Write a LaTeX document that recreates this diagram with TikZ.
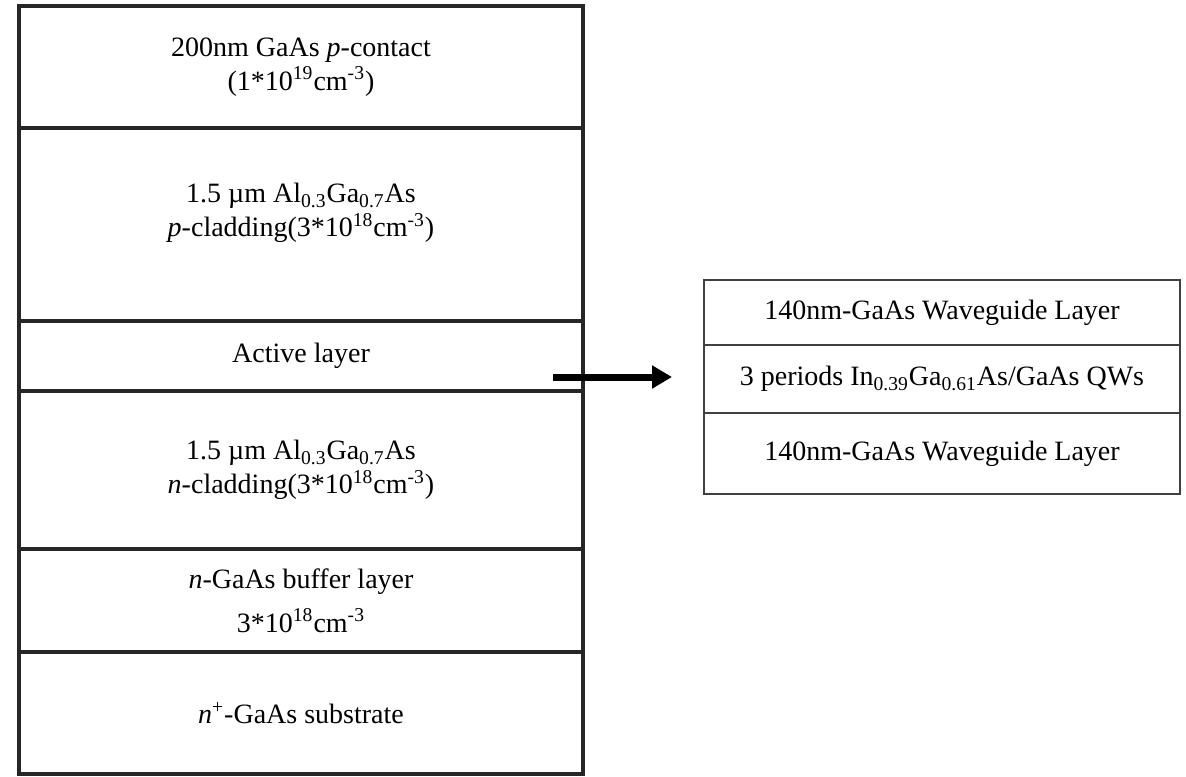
\documentclass[tikz,border=0pt]{standalone}
\usepackage{fontspec}
\setmainfont{Liberation Serif}
\usetikzlibrary{arrows.meta}
\tikzset{
  layer/.style={draw=black!85, line width=1.8pt, minimum width=282pt, inner sep=0pt,
    align=center, font=\fontsize{14pt}{17pt}\selectfont},
  sublayer/.style={draw=black!75, line width=1pt, minimum width=238pt, inner sep=0pt,
    align=center, font=\fontsize{14pt}{17pt}\selectfont},
  arr/.style={line width=3.5pt, -{Triangle[length=10pt,width=11pt]}}
}
\def\conc#1{\textsuperscript{#1}cm\textsuperscript{-3}}
\begin{document}
\begin{tikzpicture}[x=0.5pt,y=-0.5pt]
	\useasboundingbox (0,0) rectangle (1186,776);
	% left stack
	\node[layer, minimum height=61pt] (contact) at (301,67)
		{200nm GaAs \textit{p}-contact\\(1*10\conc{19})};
	\node[layer, minimum height=96.5pt] (pclad) at (301,224.5) {};
	\node[align=center, font=\fontsize{14pt}{17pt}\selectfont] (pcladtext) at (301,213)
		{1.5 µm Al\textsubscript{0.3}Ga\textsubscript{0.7}As\\\textit{p}-cladding(3*10\conc{18})};
	\node[layer, minimum height=35pt] (active) at (301,356) {Active layer};
	\node[layer, minimum height=79pt] (nclad) at (301,470)
		{1.5 µm Al\textsubscript{0.3}Ga\textsubscript{0.7}As\\\textit{n}-cladding(3*10\conc{18})};
	\node[layer, minimum height=51.5pt] (buffer) at (301,600.5)
		{\textit{n}-GaAs buffer layer\\[5pt]3*10\conc{18}};
	\node[layer, minimum height=61pt] (substrate) at (301,713)
		{\textit{n}\textsuperscript{+}-GaAs substrate};
	% active region detail
	\node[sublayer, minimum height=32.5pt] (wgtop) at (942,312.5) {140nm-GaAs Waveguide Layer};
	\node[sublayer, minimum height=34pt] (qw) at (942,379)
		{3 periods In\textsubscript{0.39}Ga\textsubscript{0.61}As/GaAs QWs};
	\node[sublayer, minimum height=40.5pt] (wgbot) at (942,453.5) {140nm-GaAs Waveguide Layer};
	\coordinate (arrstart) at (553,377);
	\draw[arr, shorten >=15.5pt] (arrstart) -- (arrstart -| qw.west);
\end{tikzpicture}
\end{document}
